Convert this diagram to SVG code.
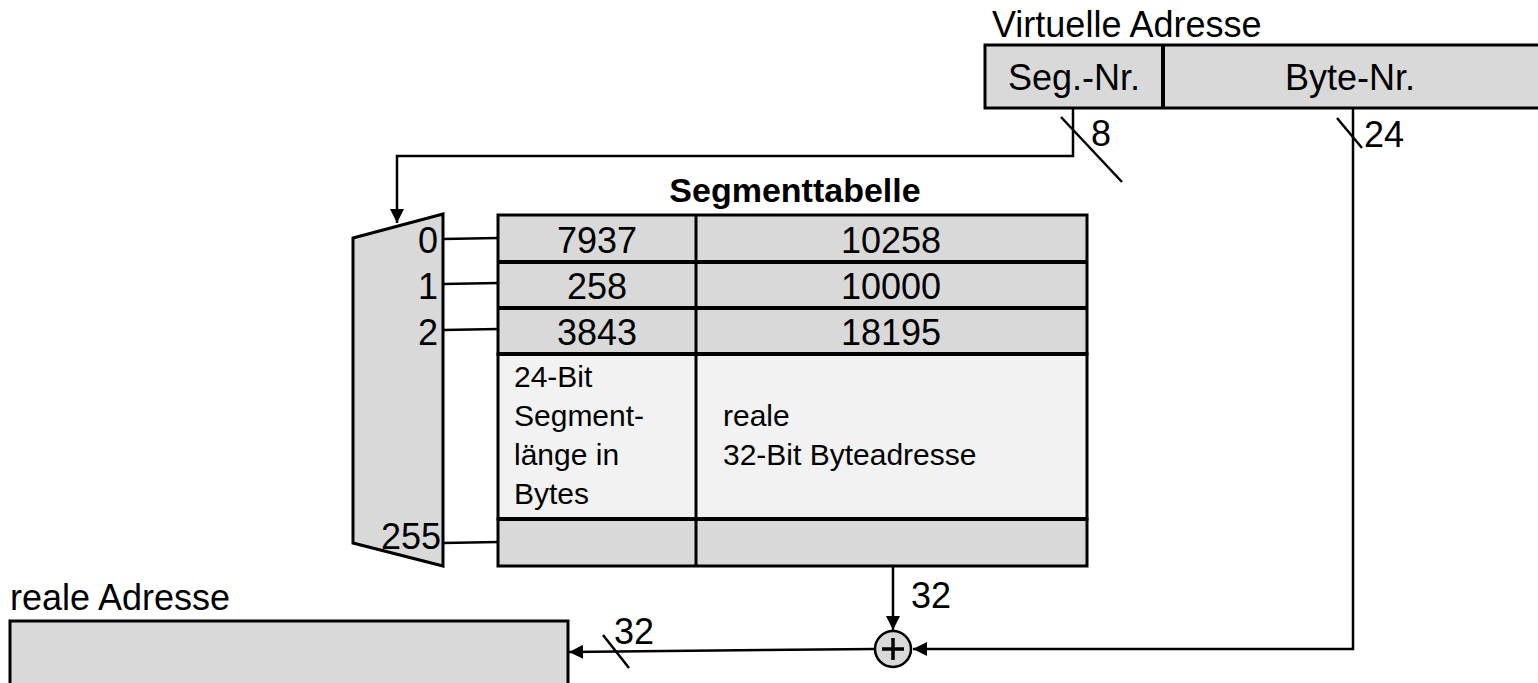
<svg xmlns="http://www.w3.org/2000/svg" width="1538" height="683" viewBox="0 0 1538 683">
<defs>
<style>
text{font-family:"Liberation Sans",Arial,sans-serif;fill:#000}
.big{font-size:36px}
.mid{font-size:30px}
.grey{fill:#d9d9d9;stroke:#000;stroke-width:3}
.light{fill:#f2f2f2;stroke:#000;stroke-width:3}
.ln{stroke:#000;stroke-width:2.5;fill:none}
.thick{stroke:#000;stroke-width:4;fill:none}
</style>
<marker id="ah" viewBox="0 0 10 10" refX="10" refY="5" markerWidth="16" markerHeight="14" markerUnits="userSpaceOnUse" orient="auto">
<path d="M0,0 L10,5 L0,10 z" fill="#000"/>
</marker>
</defs>
<rect width="1538" height="683" fill="#fff"/>

<g id="virtuelle-adresse">
<text class="big" x="992" y="37">Virtuelle Adresse</text>
<rect class="grey" x="985" y="45" width="560" height="63"/>
<line class="thick" x1="1163" y1="45" x2="1163" y2="108"/>
<text class="big" x="1074" y="90" text-anchor="middle">Seg.-Nr.</text>
<text class="big" x="1350" y="90" text-anchor="middle">Byte-Nr.</text>
</g>

<g id="segmenttabelle">
<text x="795" y="202" text-anchor="middle" style="font-size:34px;font-weight:bold">Segmenttabelle</text>
<rect class="grey" x="498" y="215" width="589" height="139"/>
<rect class="light" x="498" y="354" width="589" height="165"/>
<rect class="grey" x="498" y="519" width="589" height="47"/>
<line class="thick" x1="498" y1="262" x2="1087" y2="262"/>
<line class="thick" x1="498" y1="308" x2="1087" y2="308"/>
<line class="thick" x1="498" y1="354" x2="1087" y2="354"/>
<line class="thick" x1="498" y1="519" x2="1087" y2="519"/>
<line class="thick" x1="696" y1="215" x2="696" y2="566" style="stroke-width:3"/>
<text class="big" x="597" y="253" text-anchor="middle">7937</text>
<text class="big" x="891" y="253" text-anchor="middle">10258</text>
<text class="big" x="597" y="299" text-anchor="middle">258</text>
<text class="big" x="891" y="299" text-anchor="middle">10000</text>
<text class="big" x="597" y="345" text-anchor="middle">3843</text>
<text class="big" x="891" y="345" text-anchor="middle">18195</text>
<text class="mid" x="514" y="387">24-Bit</text>
<text class="mid" x="514" y="426">Segment-</text>
<text class="mid" x="514" y="465">länge in</text>
<text class="mid" x="514" y="504">Bytes</text>
<text class="mid" x="723" y="426">reale</text>
<text class="mid" x="723" y="465">32-Bit Byteadresse</text>
</g>

<g id="mux">
<polygon class="grey" points="353,238 443,214 443,566 353,543"/>
<text class="big" x="438" y="253" text-anchor="end">0</text>
<text class="big" x="438" y="299" text-anchor="end">1</text>
<text class="big" x="438" y="345" text-anchor="end">2</text>
<text class="big" x="441" y="549" text-anchor="end">255</text>
</g>

<g id="addierer">
<circle class="grey" cx="893" cy="649" r="18" style="stroke-width:2.5"/>
<path d="M882,649 H904 M893,638 V660" stroke="#000" stroke-width="3.5"/>
</g>

<g id="reale-adresse">
<text class="big" x="10" y="610">reale Adresse</text>
<rect class="grey" x="10" y="621" width="558" height="75"/>
</g>

<g id="connectors">
<polyline class="ln" points="1073,108 1073,156 397,156 397,223" marker-end="url(#ah)"/>
<line class="ln" x1="1061" y1="117" x2="1122" y2="182"/>
<text class="big" x="1091" y="146">8</text>
<polyline class="ln" points="1353,108 1353,649 913,649" marker-end="url(#ah)"/>
<line class="ln" x1="1337" y1="118" x2="1362" y2="148"/>
<text class="big" x="1364" y="147">24</text>
<line class="ln" x1="443" y1="239" x2="498" y2="238"/>
<line class="ln" x1="443" y1="284" x2="498" y2="283"/>
<line class="ln" x1="443" y1="330" x2="498" y2="329"/>
<line class="ln" x1="443" y1="543" x2="498" y2="542"/>
<line class="ln" x1="893" y1="566" x2="893" y2="630" marker-end="url(#ah)"/>
<text class="big" x="911" y="608">32</text>
<line class="ln" x1="875" y1="649" x2="569" y2="652" marker-end="url(#ah)"/>
<line class="ln" x1="603" y1="635" x2="629" y2="668"/>
<text class="big" x="614" y="644">32</text>
</g>
</svg>
